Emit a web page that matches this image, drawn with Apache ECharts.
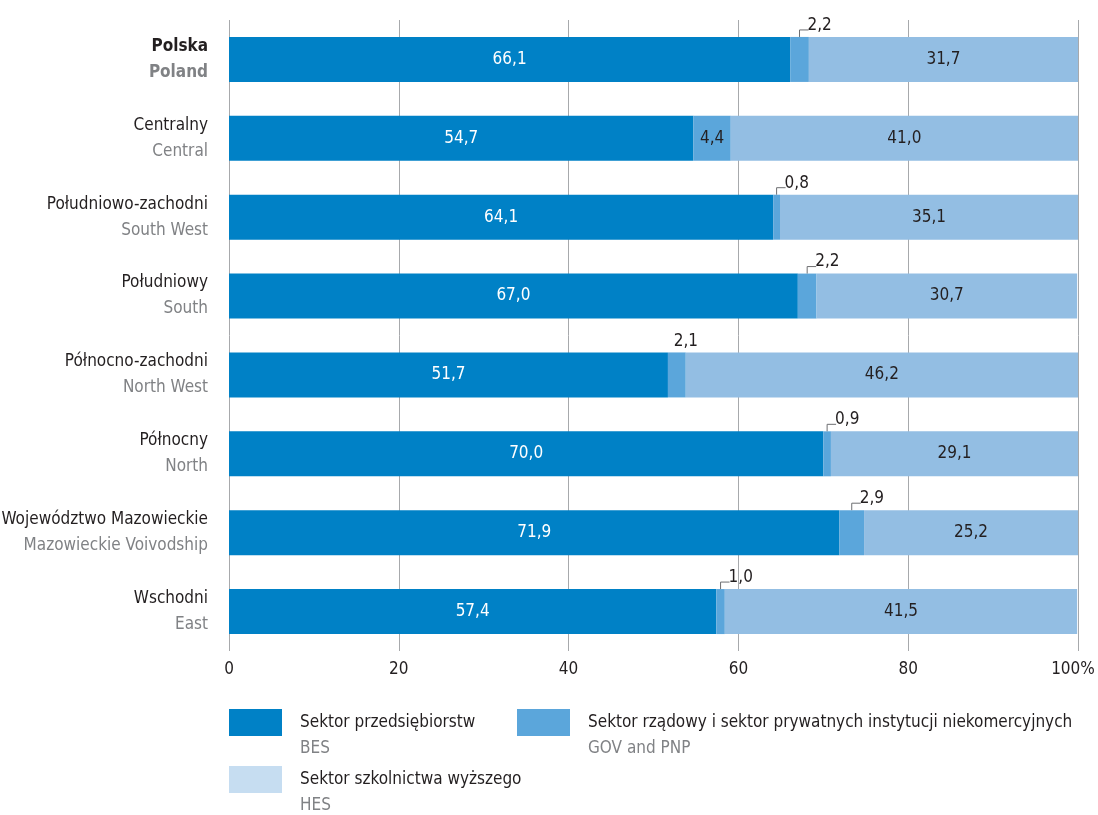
<!DOCTYPE html>
<html>
<head>
<meta charset="utf-8">
<script src="https://cdn.jsdelivr.net/npm/echarts@6/dist/echarts.min.js"></script>
<style>
  html, body { margin: 0; padding: 0; background: #fff; }
  #chart { width: 1098px; height: 815px; }
</style>
</head>
<body>
<div id="chart"></div>
<script>
const categoriesPl = ['Polska', 'Centralny', 'Południowo-zachodni', 'Południowy', 'Północno-zachodni', 'Północny', 'Województwo Mazowieckie', 'Wschodni']
const categoriesEn = ['Poland', 'Central', 'South West', 'South', 'North West', 'North', 'Mazowieckie Voivodship', 'East']
const bes = [66.1, 54.7, 64.1, 67.0, 51.7, 70.0, 71.9, 57.4]
const gov = [2.2, 4.4, 0.8, 2.2, 2.1, 0.9, 2.9, 1.0]
const hes = [31.7, 41.0, 35.1, 30.7, 46.2, 29.1, 25.2, 41.5]
// how the GOV value is labelled: inside the bar, above it, or above with a leader line
const govLabelMode = ['leader', 'inside', 'leader', 'leader', 'top', 'leader', 'leader', 'leader']
const xTicks = [0, 20, 40, 60, 80, 100]

const FONT = '"DejaVu Sans Condensed", "Liberation Sans Narrow", sans-serif'
const FS = 17
const DARK = '#231f20'
const GREY = '#808285'
const C_BES = '#0081c6'
const C_GOV = '#5ba6db'
const C_HES = '#93bee3'
const C_HES_LEGEND = '#c6ddf1'
const BAR = 45

const fmt = (v) => v.toFixed(1).replace('.', ',')

const chart = echarts.init(document.getElementById('chart'), null, { renderer: 'canvas' })

const callouts = []
gov.forEach((g, i) => {
  if (govLabelMode[i] !== 'inside') callouts.push([bes[i] + g / 2, i, g, govLabelMode[i] === 'leader' ? 1 : 0])
})

function renderCallout(params, api) {
  const p = api.coord([api.value(0), api.value(1)])
  const top = p[1] - BAR / 2
  const val = api.value(2)
  const children = []
  if (api.value(3)) {
    children.push({
      type: 'polyline',
      shape: { points: [[p[0], top], [p[0], top - 7], [p[0] + 9, top - 7]] },
      style: { stroke: '#6d6e71', lineWidth: 1, fill: null }
    })
    children.push({
      type: 'text',
      style: { x: p[0] + 8, y: top - 3, text: fmt(val), align: 'left', verticalAlign: 'bottom', fill: DARK, font: FS + 'px ' + FONT }
    })
  } else {
    children.push({
      type: 'text',
      style: { x: p[0] + 9, y: top - 2, text: fmt(val), align: 'center', verticalAlign: 'bottom', fill: DARK, font: FS + 'px ' + FONT }
    })
  }
  return { type: 'group', children }
}

const legendItems = [
  { color: C_BES, pl: 'Sektor przedsiębiorstw', en: 'BES', x: 229, y: 709 },
  { color: C_GOV, pl: 'Sektor rządowy i sektor prywatnych instytucji niekomercyjnych', en: 'GOV and PNP', x: 517, y: 709 },
  { color: C_HES_LEGEND, pl: 'Sektor szkolnictwa wyższego', en: 'HES', x: 229, y: 766 }
]
const legendGraphics = []
legendItems.forEach((it) => {
  legendGraphics.push({ type: 'rect', left: it.x, top: it.y, shape: { width: 53, height: 27 }, style: { fill: it.color } })
  legendGraphics.push({ type: 'text', left: it.x + 71, top: it.y + 5, style: { text: it.pl, fill: DARK, font: FS + 'px ' + FONT } })
  legendGraphics.push({ type: 'text', left: it.x + 71, top: it.y + 31, style: { text: it.en, fill: GREY, font: FS + 'px ' + FONT } })
})

chart.setOption({
  backgroundColor: '#fff',
  animation: false,
  textStyle: { fontFamily: FONT },
  grid: { left: 229, right: 20, top: 20, bottom: 164, outerBoundsMode: 'none', containLabel: false },
  xAxis: {
    type: 'value',
    min: 0,
    max: 100,
    interval: 20,
    axisLine: { show: false },
    axisTick: { show: false },
    splitLine: { lineStyle: { color: '#a7a9ac', width: 1 } },
    axisLabel: {
      color: DARK,
      fontSize: FS,
      fontFamily: FONT,
      margin: 10,
      formatter: (v) => (xTicks.includes(v) ? (v === 100 ? '{m|100%}' : String(v)) : ''),
      rich: { m: { color: DARK, fontSize: FS, fontFamily: FONT, padding: [0, 10, 0, 0] } }
    }
  },
  yAxis: {
    type: 'category',
    inverse: true,
    data: categoriesPl.map((c, i) => (i === 0 ? '{pb|' + c + '}\n{eb|' + categoriesEn[i] + '}' : '{p|' + c + '}\n{e|' + categoriesEn[i] + '}')),
    axisLine: { show: false },
    axisTick: { show: false },
    axisLabel: {
      margin: 21,
      align: 'right',
      rich: {
        p: { color: DARK, fontSize: FS, lineHeight: 26, fontFamily: FONT },
        e: { color: GREY, fontSize: FS, lineHeight: 26, fontFamily: FONT },
        pb: { color: DARK, fontSize: FS, lineHeight: 26, fontWeight: 'bold', fontFamily: FONT },
        eb: { color: GREY, fontSize: FS, lineHeight: 26, fontWeight: 'bold', fontFamily: FONT }
      }
    }
  },
  graphic: legendGraphics,
  series: [
    {
      name: 'BES',
      type: 'bar',
      stack: 'total',
      barWidth: BAR,
      data: bes,
      itemStyle: { color: C_BES },
      label: { show: true, position: 'inside', color: '#fff', fontSize: FS, fontFamily: FONT, formatter: (p) => fmt(p.value) }
    },
    {
      name: 'GOV',
      type: 'bar',
      stack: 'total',
      barWidth: BAR,
      data: gov.map((g, i) => ({
        value: g,
        label: { show: govLabelMode[i] === 'inside' }
      })),
      itemStyle: { color: C_GOV },
      label: { position: 'inside', color: DARK, fontSize: FS, fontFamily: FONT, formatter: (p) => fmt(p.value) }
    },
    {
      name: 'HES',
      type: 'bar',
      stack: 'total',
      barWidth: BAR,
      data: hes,
      itemStyle: { color: C_HES },
      label: { show: true, position: 'inside', color: DARK, fontSize: FS, fontFamily: FONT, formatter: (p) => fmt(p.value) }
    },
    {
      type: 'custom',
      renderItem: renderCallout,
      encode: { x: 0, y: 1 },
      data: callouts,
      z: 5
    }
  ]
})
</script>
</body>
</html>
